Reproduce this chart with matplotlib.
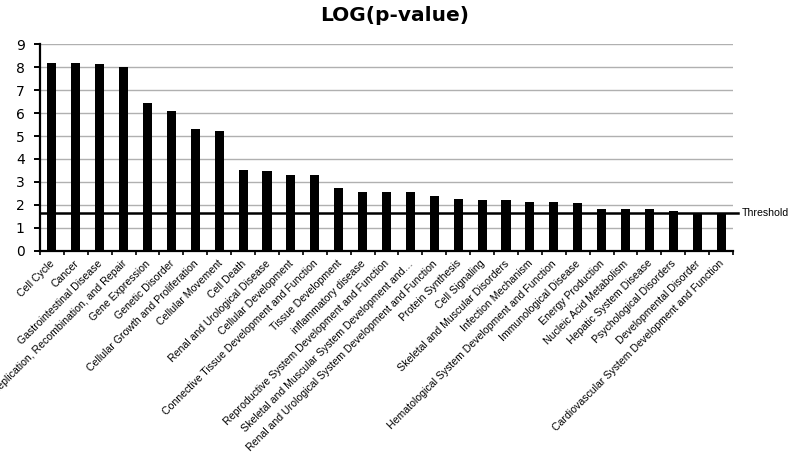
import numpy as np
import matplotlib
matplotlib.use('Agg')
import matplotlib.pyplot as plt

categories = [
    'Cell Cycle', 'Cancer', 'Gastrointestinal Disease',
    'DNA Replication, Recombination, and Repair', 'Gene Expression',
    'Genetic Disorder', 'Cellular Growth and Proliferation',
    'Cellular Movement', 'Cell Death', 'Renal and Urological Disease',
    'Cellular Development', 'Connective Tissue Development and Function',
    'Tissue Development', 'inflammatory disease',
    'Reproductive System Development and Function',
    'Skeletal and Muscular System Development and\u2026',
    'Renal and Urological System Development and Function',
    'Protein Synthesis', 'Cell Signaling', 'Skeletal and Muscular Disorders',
    'Infection Mechanism', 'Hematological System Development and Function',
    'Immunological Disease', 'Energy Production', 'Nucleic Acid Metabolism',
    'Hepatic System Disease', 'Psychological Disorders',
    'Developmental Disorder', 'Cardiovascular System Development and Function',
]
log_p = [8.2, 8.2, 8.13, 8.0, 6.43, 6.1, 5.32, 5.2, 3.52, 3.48, 3.28, 3.28,
         2.72, 2.58, 2.58, 2.58, 2.39, 2.26, 2.21, 2.2, 2.11, 2.11, 2.1,
         1.83, 1.83, 1.8, 1.72, 1.63, 1.63]
threshold = 1.63

fig = plt.figure(figsize=(7.95, 4.57), dpi=100)
ax = fig.add_axes([0.0503, 0.4514, 0.8717, 0.4516])

x = np.arange(len(categories))
ax.bar(x, log_p, width=0.38, color='black', zorder=3)

ax.set_xlim(-0.5, len(categories) - 0.5)
ax.set_ylim(0, 9)
ax.set_yticks(range(0, 10))
ax.yaxis.grid(True, color='#b0b0b0', linewidth=1.0, zorder=0)
ax.set_axisbelow(True)

for s in ['top', 'right']:
    ax.spines[s].set_visible(False)
ax.spines['left'].set_linewidth(1.6)
ax.spines['bottom'].set_linewidth(1.6)

# ticks between categories
ax.set_xticks(np.arange(-0.5, len(categories), 1.0))
ax.set_xticklabels([])
ax.tick_params(axis='x', direction='out', length=3, width=1.2)
ax.tick_params(axis='y', direction='out', length=4, width=1.4,
               labelsize=10, pad=7)

for i, lab in enumerate(categories):
    ax.annotate(lab, xy=(i, 0), xycoords=('data', 'axes fraction'),
                xytext=(1, -8), textcoords='offset points',
                rotation=45, rotation_mode='anchor', ha='right', va='center',
                fontsize=7.6, family='Liberation Sans')

# threshold line
ax.plot([-0.5, len(categories) - 0.5 + 0.22], [threshold, threshold],
        color='black', linewidth=1.8, clip_on=False, zorder=4)
ax.annotate('Threshold', xy=(1.0, threshold), xycoords=('axes fraction', 'data'),
            xytext=(6, 0), textcoords='offset points', ha='left', va='center',
            fontsize=7.6, family='Liberation Sans')

fig.text(0.497, 0.965, 'LOG(p-value)', ha='center', va='center',
         fontsize=14.5, fontweight='bold')

fig.savefig('out.png', dpi=100)
